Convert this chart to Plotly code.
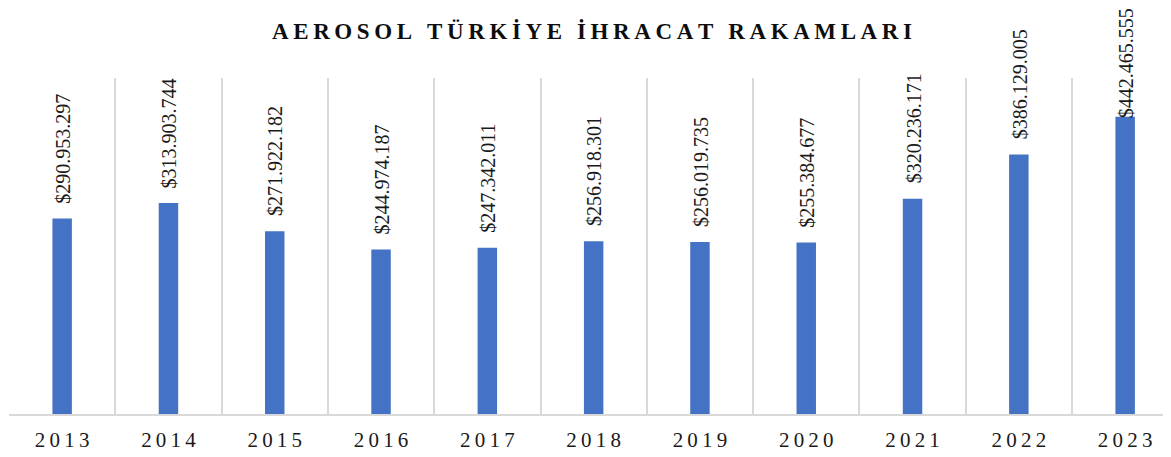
import plotly.graph_objects as go

years = ["2013", "2014", "2015", "2016", "2017", "2018", "2019", "2020", "2021", "2022", "2023"]
values = [290953297, 313903744, 271922182, 244974187, 247342011, 256918301,
          256019735, 255384677, 320236171, 386129005, 442465555]
labels = ["$290.953.297", "$313.903.744", "$271.922.182", "$244.974.187", "$247.342.011",
          "$256.918.301", "$256.019.735", "$255.384.677", "$320.236.171", "$386.129.005",
          "$442.465.555"]
title_text = "AEROSOL TÜRKİYE İHRACAT RAKAMLARI"

# page body has an 8px default margin; figure is sized to fit the window
OFF = 8
W, H = 1171 - OFF, 457 - OFF
M_T, M_B, M_L, M_R = 78 - OFF, 43, 9 - OFF, 0
Y_MAX = 500_000_000
plot_h = H - M_T - M_B
CAT_W = 106.3

def spaced(s, sep):
    return sep.join(list(s))

FONT = "Liberation Serif"
x = list(range(len(years)))

fig = go.Figure()
fig.add_trace(go.Bar(
    x=x, y=values, width=0.183,
    marker=dict(color="#4472C4", line=dict(width=0)),
    hoverinfo="skip",
))

LABEL_LEN = 117
for i, (v, lab) in enumerate(zip(values, labels)):
    top_px = OFF + M_T + plot_h * (1 - v / Y_MAX)
    shift = 15
    if top_px - shift - LABEL_LEN < 1:
        shift = top_px - LABEL_LEN - 1
    fig.add_annotation(
        x=i, y=v, text=lab, textangle=-90, showarrow=False,
        yanchor="bottom", xanchor="center", yshift=shift - 2, xshift=1,
        font=dict(family=FONT, size=20, color="#1a1a1a"),
    )

fig.update_layout(
    width=W, height=H,
    margin=dict(l=M_L, r=M_R, t=M_T, b=M_B, pad=0),
    paper_bgcolor="white", plot_bgcolor="white",
    showlegend=False,
    title=dict(
        text="<b>" + spaced(title_text, "\u2009") + "</b>",
        x=(592 - OFF) / W, xanchor="center", y=1 - (31 - OFF) / H, yanchor="middle",
        font=dict(family=FONT, size=23, color="#0d0d0d"),
    ),
    xaxis=dict(
        range=[-0.5, -0.5 + (W - M_L) / CAT_W],
        tickmode="array", tickvals=x, ticktext=[spaced(y, "\u2009") for y in years],
        showgrid=False, zeroline=False,
        showline=True, linecolor="#d9d9d9", linewidth=1.5,
        ticks="", ticklen=0, ticklabelstandoff=6,
        tickfont=dict(family=FONT, size=21, color="#1a1a1a"),
        minor=dict(tickmode="linear", tick0=-0.5, dtick=1, showgrid=True,
                   gridcolor="#d9d9d9", gridwidth=1.5, ticks=""),
    ),
    yaxis=dict(
        range=[0, Y_MAX], visible=False, showgrid=False, zeroline=False,
    ),
)

fig.write_html("out.html")
